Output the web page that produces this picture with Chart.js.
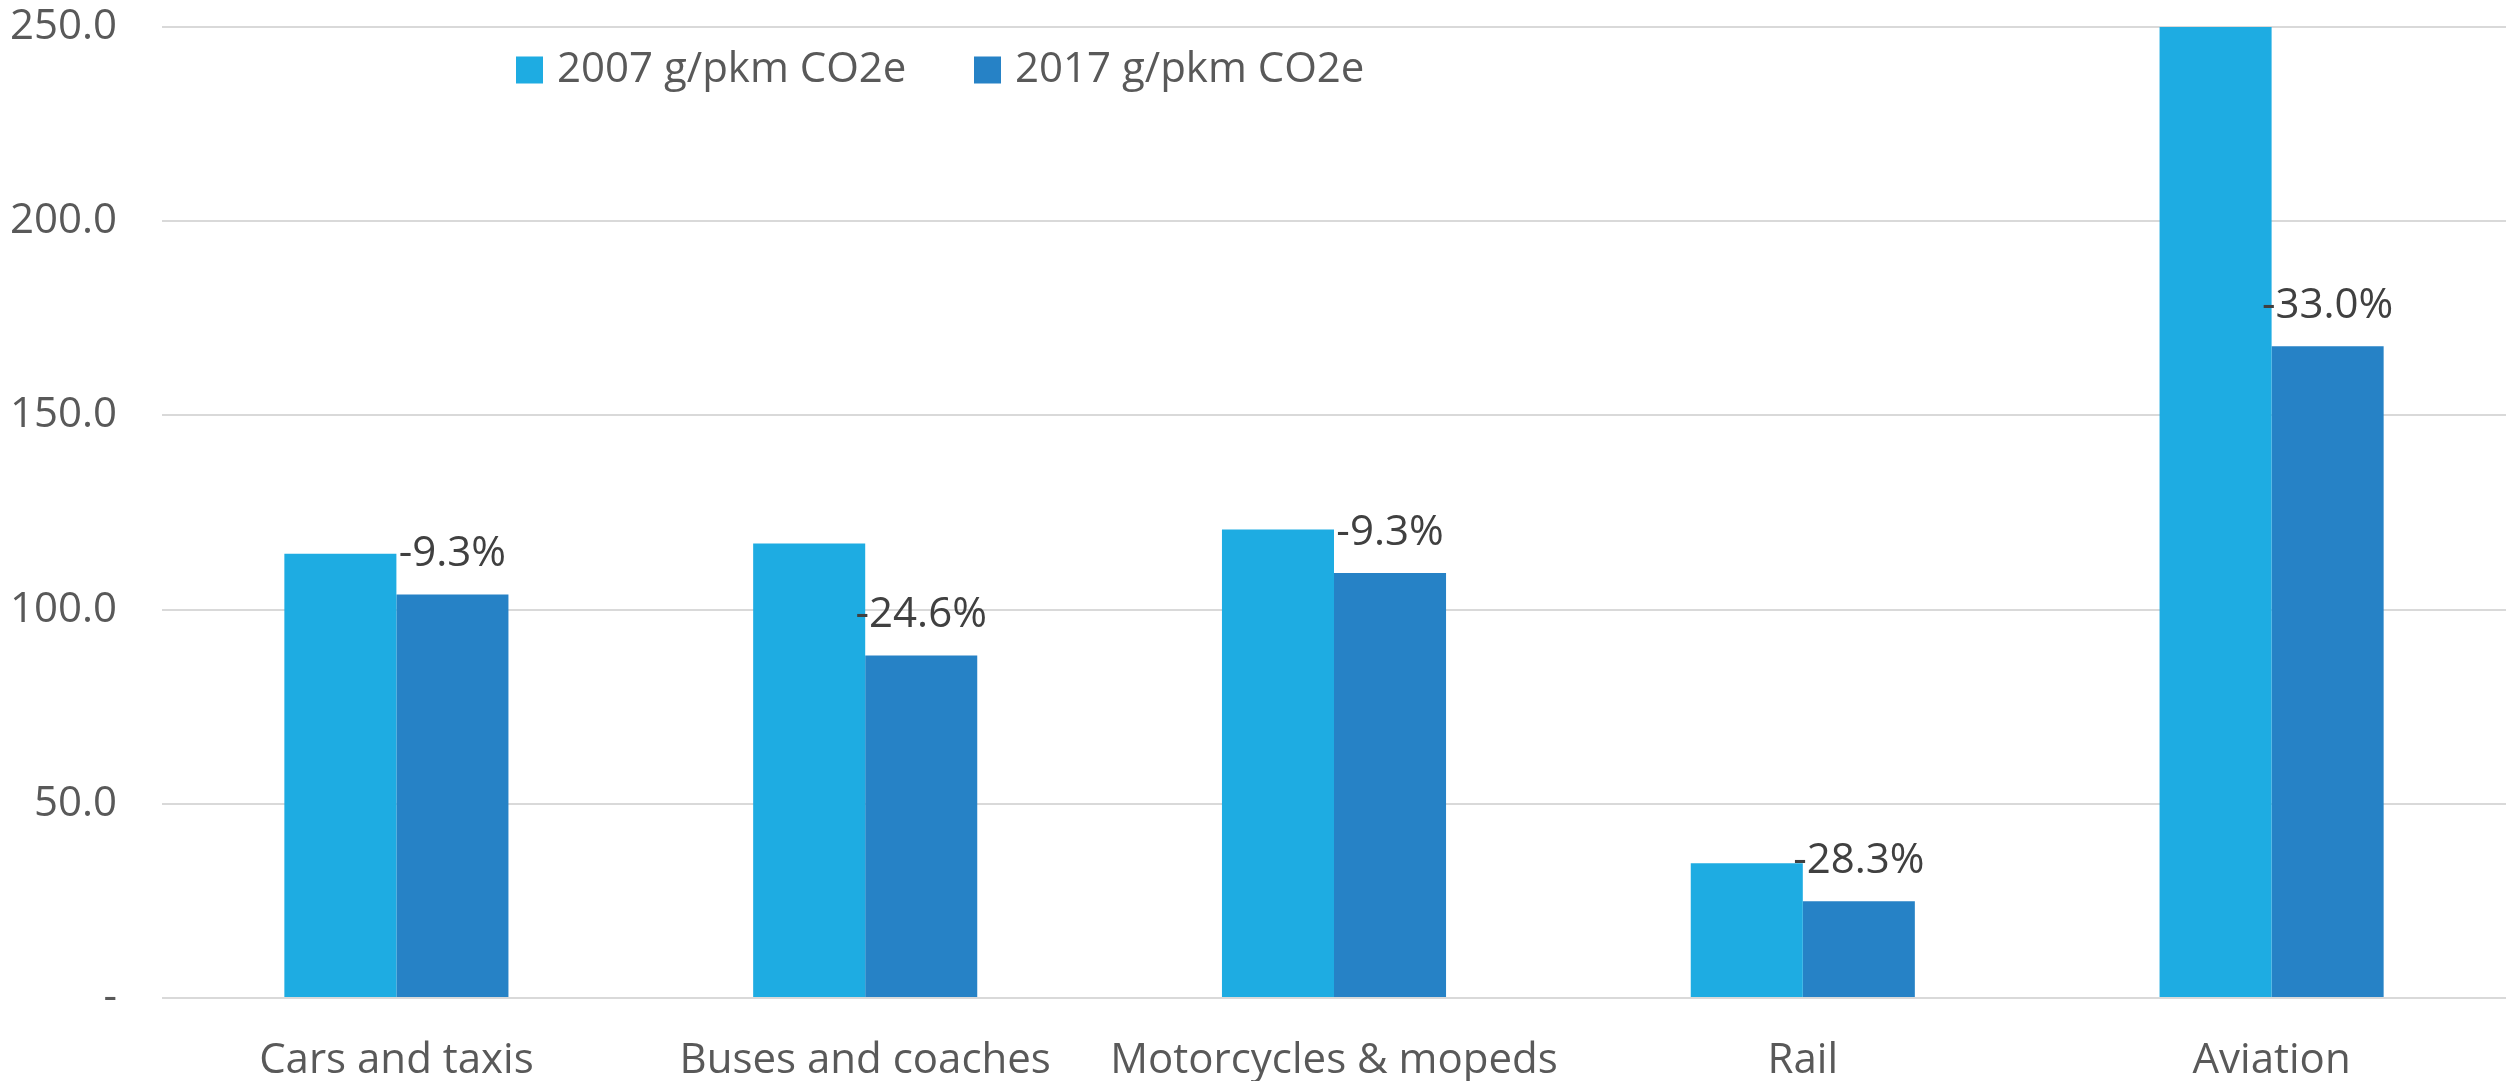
<!DOCTYPE html>
<html>
<head>
<meta charset="utf-8">
<script src="https://cdn.jsdelivr.net/npm/chart.js@4/dist/chart.umd.min.js"></script>
<style>
  html, body { margin: 0; padding: 0; background: #ffffff; }
  #wrap { width: 2506px; height: 1081px; position: relative; overflow: hidden; }
</style>
</head>
<body>
<div id="wrap"><canvas id="c" width="2506" height="1081"></canvas></div>
<script>
const categories = ['Cars and taxis', 'Buses and coaches', 'Motorcycles & mopeds', 'Rail', 'Aviation'];
const series2007 = [114.4, 117.0, 120.6, 34.7, 250.4];
const series2017 = [103.9, 88.2, 109.4, 24.9, 167.8];
const changeLabels = ['-9.3%', '-24.6%', '-9.3%', '-28.3%', '-33.0%'];
const seriesNames = ['2007 g/pkm CO2e', '2017 g/pkm CO2e'];
const yTicks = [0, 50, 100, 150, 200, 250];

const FONT = '"Open Sans", "Noto Sans", sans-serif';

const labelPlugin = {
  id: 'changeLabels',
  afterDatasetsDraw(chart) {
    const ctx = chart.ctx;
    const meta = chart.getDatasetMeta(1);
    ctx.save();
    ctx.font = '42px ' + FONT;
    ctx.fillStyle = '#404040';
    ctx.textAlign = 'center';
    ctx.textBaseline = 'middle';
    meta.data.forEach((bar, i) => {
      ctx.fillText(changeLabels[i], bar.x, bar.y - 40);
    });
    ctx.restore();
  }
};

const legendPlugin = {
  id: 'customLegend',
  afterDraw(chart) {
    const ctx = chart.ctx;
    const area = chart.chartArea;
    const starts = [area.left + 354, area.left + 812];
    ctx.save();
    ctx.font = '42px ' + FONT;
    ctx.textBaseline = 'middle';
    ctx.textAlign = 'left';
    chart.data.datasets.forEach((ds, i) => {
      const x = starts[i];
      const yc = area.top + 43;
      ctx.fillStyle = ds.backgroundColor;
      ctx.fillRect(x, yc - 13.5, 27, 27);
      ctx.fillStyle = '#595959';
      ctx.fillText(ds.label, x + 41, yc);
    });
    ctx.restore();
  }
};

new Chart(document.getElementById('c'), {
  type: 'bar',
  data: {
    labels: categories,
    datasets: [
      { label: seriesNames[0], data: series2007, backgroundColor: '#1EACE2' },
      { label: seriesNames[1], data: series2017, backgroundColor: '#2682C6' }
    ]
  },
  options: {
    responsive: false,
    animation: false,
    devicePixelRatio: 1,
    layout: { padding: { top: 27, right: -4, bottom: 0, left: 0 } },
    datasets: { bar: { categoryPercentage: 0.478, barPercentage: 1.0, borderWidth: 0 } },
    plugins: {
      legend: { display: false },
      tooltip: { enabled: false }
    },
    scales: {
      x: {
        grid: { display: false, drawTicks: false },
        border: { display: false },
        ticks: { color: '#595959', font: { family: FONT, size: 42 }, padding: 38, maxRotation: 0, autoSkip: false },
        afterFit(scale) { scale.height = 83; scale.paddingLeft = 0; scale.paddingRight = 0; }
      },
      y: {
        min: 0,
        max: 250,
        afterBuildTicks(scale) { scale.ticks = yTicks.map(v => ({ value: v })); },
        grid: { color: '#D9D9D9', lineWidth: 2, drawTicks: false },
        border: { display: false },
        ticks: {
          color: '#595959',
          font: { family: FONT, size: 42 },
          padding: 45,
          callback: (v) => v === 0 ? '-' : Number(v).toFixed(1)
        },
        afterFit(scale) { scale.width = 162; scale.paddingTop = 0; scale.paddingBottom = 0; }
      }
    }
  },
  plugins: [labelPlugin, legendPlugin]
});
</script>
</body>
</html>
